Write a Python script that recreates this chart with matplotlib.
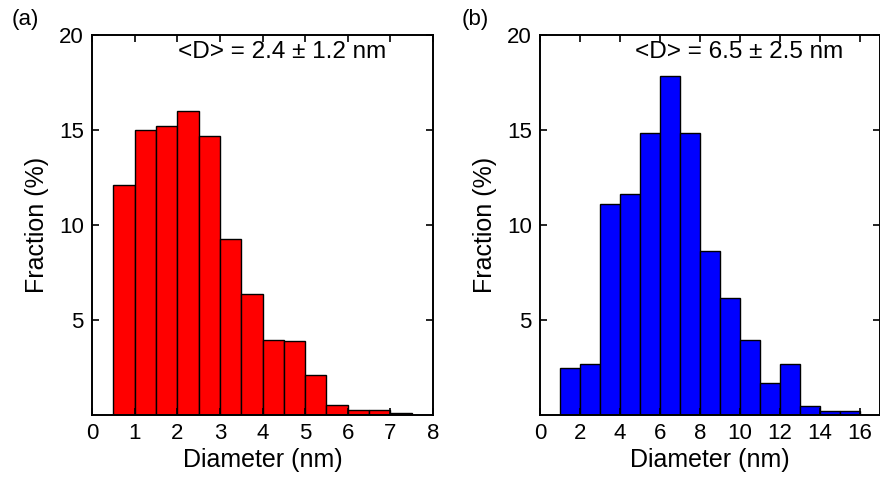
import numpy as np
import matplotlib.pyplot as plt

plt.rcParams['font.family'] = ['Liberation Sans', 'DejaVu Sans']

# (a) bin edges start 0.5 nm, width 0.5 nm
edges_a = [0.5, 1.0, 1.5, 2.0, 2.5, 3.0, 3.5, 4.0, 4.5, 5.0, 5.5, 6.0, 6.5, 7.0, 7.5]
frac_a = [12.1, 15.0, 15.2, 16.0, 14.7, 9.25, 6.35, 3.95, 3.9, 2.1, 0.53, 0.27, 0.27, 0.09]

# (b) bin edges start 1 nm, width 1 nm
edges_b = [1, 2, 3, 4, 5, 6, 7, 8, 9, 10, 11, 12, 13, 14, 15, 16]
frac_b = [2.48, 2.69, 11.1, 11.65, 14.83, 17.83, 14.83, 8.62, 6.15, 3.97, 1.69, 2.69, 0.49, 0.23, 0.23]

labels = ['<D> = 2.4 \u00b1 1.2 nm', '<D> = 6.5 \u00b1 2.5 nm']
panel_tags = ['(a)', '(b)']

fig = plt.figure(figsize=(8.8, 4.84), dpi=100)
ax_a = fig.add_axes([92 / 880, 69 / 484, 341 / 880, 380 / 484])
ax_b = fig.add_axes([540 / 880, 69 / 484, 340 / 880, 380 / 484])


def draw_hist(ax, edges, vals, color):
    edges = np.asarray(edges, dtype=float)
    widths = np.diff(edges)
    ax.bar(edges[:-1], vals, width=widths, align='edge',
           color=color, edgecolor='black', linewidth=1.0)
    ax.set_ylim(0, 20)
    ax.set_yticks([5, 10, 15, 20])
    ax.tick_params(direction='in', top=True, right=True, length=5,
                   width=1.2, labelsize=16, pad=6)
    for s in ax.spines.values():
        s.set_linewidth(1.4)
    ax.set_xlabel('Diameter (nm)', fontsize=18, labelpad=3)
    ax.set_ylabel('Fraction (%)', fontsize=18, labelpad=7)


draw_hist(ax_a, edges_a, frac_a, '#ff0000')
ax_a.set_xlim(0, 8)
ax_a.set_xticks(range(0, 9))

draw_hist(ax_b, edges_b, frac_b, '#0000ff')
ax_b.set_xlim(0, 17)
ax_b.set_xticks(range(0, 17, 2))

ax_a.text(0.558, 0.955, labels[0], transform=ax_a.transAxes,
          ha='center', va='center', fontsize=17.5)
ax_b.text(0.585, 0.955, labels[1], transform=ax_b.transAxes,
          ha='center', va='center', fontsize=17.5)

fig.text(12 / 880, 1 - 20 / 484, panel_tags[0], ha='left', va='center', fontsize=16)
fig.text(462 / 880, 1 - 20 / 484, panel_tags[1], ha='left', va='center', fontsize=16)

fig.savefig('out.png', dpi=100)
